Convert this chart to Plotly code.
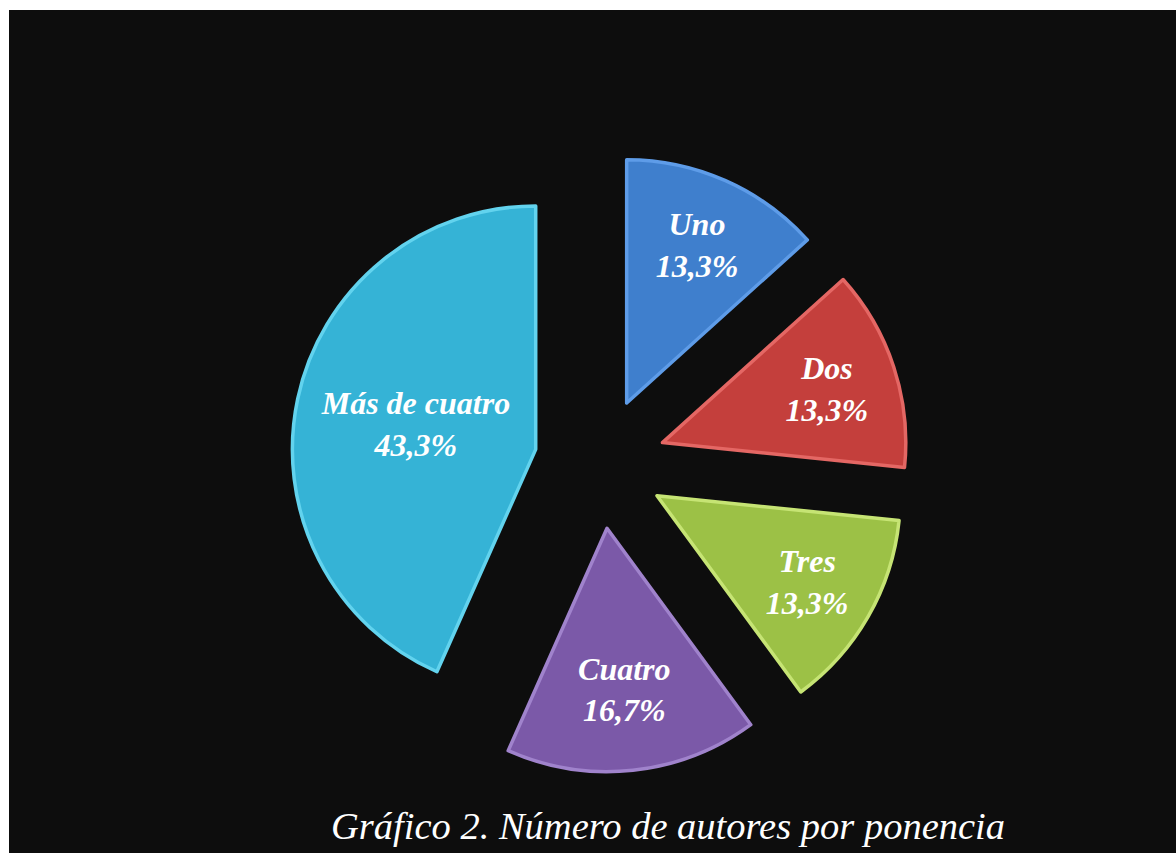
import plotly.graph_objects as go

labels = ["Uno", "Dos", "Tres", "Cuatro", "Más de cuatro"]
values = [13.3, 13.3, 13.3, 16.7, 43.3]
colors = ["#3f7fcd", "#c43f3c", "#9cc146", "#7b59a8", "#35b3d6"]
rim_colors = ["#5e9ce8", "#e46764", "#c6e474", "#a083cc", "#62d3ee"]
title_text = "Gráfico 2. Número de autores por ponencia"

fig = go.Figure()
fig.add_trace(go.Pie(
    labels=labels,
    values=values,
    sort=False,
    direction="clockwise",
    rotation=0,
    pull=[0.27] * len(values),
    marker=dict(colors=colors, line=dict(color=rim_colors, width=3.5)),
    texttemplate="%{label}<br>%{percent:.1%}",
    textposition="inside",
    insidetextorientation="horizontal",
    textfont=dict(family="Liberation Serif", size=32, color="white",
                  style="italic", weight="bold"),
    hoverinfo="label+percent",
    domain=dict(x=[0.2474, 0.7730], y=[0.0949, 0.8195]),
    showlegend=False,
))

fig.update_layout(
    width=1176, height=853,
    margin=dict(l=0, r=0, t=0, b=0),
    paper_bgcolor="white",
    separators=",.",
    shapes=[dict(type="rect", xref="paper", yref="paper",
                 x0=9 / 1176, x1=1, y0=0, y1=1 - 10 / 853,
                 fillcolor="#0d0d0d", line=dict(width=0), layer="below")],
    annotations=[dict(text=title_text, xref="paper", yref="paper",
                      x=0.568, y=0.0315, xanchor="center", yanchor="middle",
                      showarrow=False,
                      font=dict(family="Liberation Serif", size=38.5, color="white",
                                style="italic"))],
)

fig.write_html("out.html",
               config={"displayModeBar": False},
               post_script="document.body.style.margin='0';document.body.style.overflow='hidden';")
